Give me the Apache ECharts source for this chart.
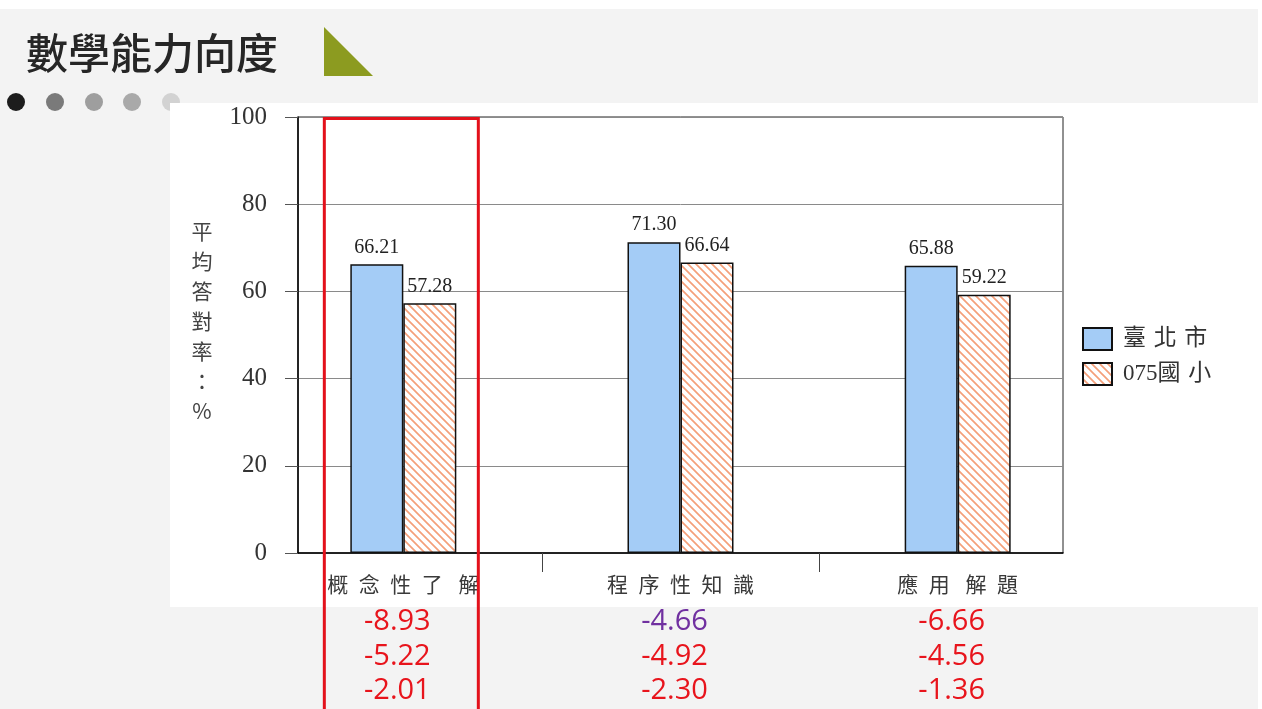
<!DOCTYPE html>
<html><head><meta charset="utf-8">
<script src="https://cdn.jsdelivr.net/npm/echarts@6/dist/echarts.min.js"></script>
<style>html,body{margin:0;padding:0;background:#fff;}#c{width:1262px;height:709px;}</style>
</head><body><div id="c"></div>
<script>
// ---- data ----
const pageTitle = '數學能力向度';
const yAxisTitle = '平均答對率：%';
const categories = ['概念性了 解', '程序性知識', '應用 解題'];
const seriesNames = ['臺北市', '075國小'];
const taipeiValues = [66.21, 71.30, 65.88];
const schoolValues = [57.28, 66.64, 59.22];
const yMin = 0, yMax = 100, yStep = 20;
const diffRow1 = ['-8.93', '-4.66', '-6.66'];
const diffRow2 = ['-5.22', '-4.92', '-4.56'];
const diffRow3 = ['-2.01', '-2.30', '-1.36'];
const diffRow1Highlight = [false, true, false];

// ---- style helpers ----
const RED = '#e8141c', PURPLE = '#7030a0';
function hatch() {
  const s = 8, c = document.createElement('canvas');
  c.width = s; c.height = s;
  const g = c.getContext('2d');
  g.fillStyle = '#fff'; g.fillRect(0, 0, s, s);
  g.strokeStyle = '#f4a07a'; g.lineWidth = 1.7;
  g.beginPath();
  g.moveTo(-2, -2); g.lineTo(s + 2, s + 2);
  g.moveTo(-2, s - 2); g.lineTo(2, s + 2);
  g.moveTo(s - 2, -2); g.lineTo(s + 2, 2);
  g.stroke();
  return c;
}
function spaced(s) {
  return s.split(' ').map(w => w.split('').join('\u2002')).join('\u2002\u2005');
}
const xBase = { type: 'value', gridIndex: 0, min: -0.38, max: 2.38,
  splitLine: { show: false }, axisTick: { show: false }, axisLine: { show: false, onZero: false } };
function diffAxis(row, margin, colors) {
  return Object.assign({}, xBase, {
    position: 'bottom',
    axisLabel: {
      customValues: [0, 1, 2], margin: margin, verticalAlign: 'middle',
      formatter: v => row[Math.round(v)],
      color: (v) => colors ? colors[Math.round(v)] : RED,
      fontFamily: '"Open Sans", "Liberation Sans", sans-serif', fontSize: 29,
      padding: [0, 12, 0, 0]
    }
  });
}

const chart = echarts.init(document.getElementById('c'), null, { renderer: 'canvas' });
const hatchImg = hatch();

chart.setOption({
  backgroundColor: '#ffffff',
  animation: false,
  grid: { left: 298, top: 117, width: 765, height: 436, show: true,
    borderColor: '#222', borderWidth: 1, backgroundColor: 'transparent' },
  legend: {
    data: seriesNames, orient: 'vertical', left: 1077, top: 322,
    itemWidth: 29, itemHeight: 22, itemGap: 11, icon: 'rect',
    formatter: n => n.replace(/([\u4e00-\u9fff])(?=[\u4e00-\u9fff])/g, '$1\u2004'),
    textStyle: { fontSize: 23, color: '#333', padding: [0, 0, 0, 6],
      fontFamily: '"Liberation Serif", "Noto Sans CJK TC", serif' }
  },
  xAxis: [
    Object.assign({}, xBase, {
      position: 'bottom',
      axisLine: { show: true, onZero: false, lineStyle: { color: '#000', width: 1.5 } },
      axisTick: { show: true, customValues: [0.5, 1.5], length: 19, lineStyle: { color: '#444' } },
      axisLabel: { customValues: [0, 1, 2], margin: 31, verticalAlign: 'middle',
        formatter: v => spaced(categories[Math.round(v)]),
        fontFamily: '"Noto Sans CJK TC", sans-serif', fontSize: 21, color: '#3a3a3a' }
    }),
    diffAxis(diffRow1, 69, diffRow1Highlight.map(h => h ? PURPLE : RED)),
    diffAxis(diffRow2, 104),
    diffAxis(diffRow3, 138)
  ],
  yAxis: {
    type: 'value', min: yMin, max: yMax, interval: yStep, position: 'left',
    axisLine: { show: true, onZero: false, lineStyle: { color: '#000', width: 1.5 } },
    axisTick: { show: true, length: 13, lineStyle: { color: '#555' } },
    axisLabel: { margin: 31, fontFamily: '"Liberation Serif", serif', fontSize: 25, color: '#333' },
    splitLine: { show: true, lineStyle: { color: '#8a8a8a', width: 1 } }
  },
  series: [
    { type: 'bar', name: seriesNames[0], xAxisIndex: 0,
      data: taipeiValues.map((v, i) => [i, v]),
      barWidth: 53, barGap: '0%',
      itemStyle: { color: '#a4ccf6', borderColor: '#111', borderWidth: 1.5 },
      label: { show: true, position: 'top', distance: 7,
        formatter: p => p.value[1].toFixed(2),
        fontFamily: '"Liberation Serif", serif', fontSize: 20, color: '#222' } },
    { type: 'bar', name: seriesNames[1], xAxisIndex: 0,
      data: schoolValues.map((v, i) => [i, v]),
      barWidth: 53, barGap: '0%',
      itemStyle: { color: { image: hatchImg, repeat: 'repeat' }, borderColor: '#111', borderWidth: 1.5 },
      label: { show: true, position: 'top', distance: 7,
        formatter: p => p.value[1].toFixed(2),
        fontFamily: '"Liberation Serif", serif', fontSize: 20, color: '#222' } }
  ],
  graphic: [
    { id: 'bg', type: 'rect', z: -100, shape: { x: 0, y: 9, width: 1258, height: 700 }, style: { fill: '#f3f3f3' } },
    { id: 'd0', type: 'circle', z: -99.5, shape: { cx: 16, cy: 102, r: 9 }, style: { fill: '#1c1c1c' } },
    { id: 'd1', type: 'circle', z: -99.5, shape: { cx: 55, cy: 102, r: 9 }, style: { fill: '#7a7a7a' } },
    { id: 'd2', type: 'circle', z: -99.5, shape: { cx: 94, cy: 102, r: 9 }, style: { fill: '#9e9e9e' } },
    { id: 'd3', type: 'circle', z: -99.5, shape: { cx: 132, cy: 102, r: 9 }, style: { fill: '#a9a9a9' } },
    { id: 'd4', type: 'circle', z: -99.5, shape: { cx: 171, cy: 102, r: 9 }, style: { fill: '#d2d2d2' } },
    { id: 'panel', type: 'rect', z: -99, shape: { x: 170, y: 103, width: 1088, height: 504 }, style: { fill: '#ffffff' } },
    { id: 'title', type: 'text', z: 10, x: 26, y: 53,
      style: { text: pageTitle, fill: '#262626', font: '500 42px "Noto Sans CJK TC", sans-serif', textVerticalAlign: 'middle' } },
    { id: 'tri', type: 'polygon', z: 10, shape: { points: [[324, 27], [324, 76], [373, 76]] }, style: { fill: '#8c9b20' } },
    { id: 'ytitle', type: 'text', z: 10, x: 202, y: 321,
      style: { text: yAxisTitle.split('').join('\n'), fill: '#444', font: '21px "Noto Sans CJK TC", sans-serif',
        lineHeight: 30, textAlign: 'center', textVerticalAlign: 'middle' } }
  ]
});

const cx = chart.convertToPixel({ xAxisIndex: 0 }, 0);
const yTop = chart.convertToPixel({ yAxisIndex: 0 }, yMax);
chart.setOption({
  graphic: [
    { id: 'redbox', type: 'rect', z: 100,
      shape: { x: cx - 79, y: yTop + 1.5, width: 154, height: 620 },
      style: { fill: 'none', stroke: '#e3111b', lineWidth: 3 } }
  ]
});
</script>
</body></html>
